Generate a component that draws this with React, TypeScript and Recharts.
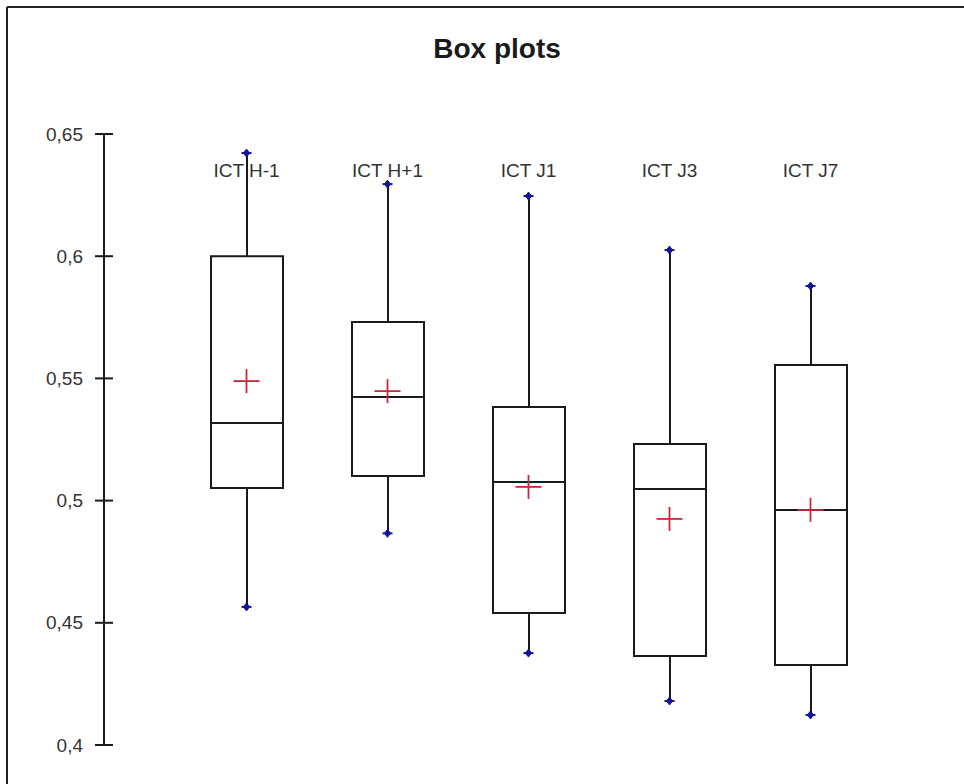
import { ComposedChart, Bar, Scatter, XAxis, YAxis } from 'recharts';

const categories = ['ICT H-1', 'ICT H+1', 'ICT J1', 'ICT J3', 'ICT J7'];
const minimums = [0.4565, 0.4866, 0.4376, 0.418, 0.4123];
const q1Values = [0.5052, 0.5101, 0.454, 0.4364, 0.4327];
const medians = [0.5318, 0.5424, 0.5076, 0.5047, 0.4962];
const q3Values = [0.6, 0.5731, 0.5383, 0.5232, 0.5555];
const maximums = [0.6422, 0.6295, 0.6246, 0.6025, 0.5878];
const means = [0.5489, 0.5448, 0.5056, 0.4925, 0.4962];
const yTicks = [0.4, 0.45, 0.5, 0.55, 0.6, 0.65];

const data = categories.map((name, i) => ({
  name,
  min: minimums[i],
  q1: q1Values[i],
  median: medians[i],
  q3: q3Values[i],
  max: maximums[i],
  mean: means[i],
}));

const FONT = '"Liberation Sans", Arial, sans-serif';
const AXIS_X = 104;
const BOX_W = 72;
const INK = '#1a1a1a';

const YTick = (props: any) => {
  const { y, payload } = props;
  return (
    <g>
      <line x1={AXIS_X - 9} x2={AXIS_X + 9} y1={y} y2={y} stroke={INK} strokeWidth={2} />
      <text x={AXIS_X - 21} y={y} dy="0.35em" textAnchor="end" fontSize={19} fill="#333" fontFamily={FONT}>
        {String(payload.value).replace('.', ',')}
      </text>
    </g>
  );
};

const XTick = (props: any) => {
  const { x, payload } = props;
  return (
    <text x={x} y={177} textAnchor="middle" fontSize={19} fill="#333" fontFamily={FONT}>
      {payload.value}
    </text>
  );
};

const Whisker = (props: any) => {
  const { x, y, width, height } = props;
  const top = Math.min(y, y + height);
  const bottom = Math.max(y, y + height);
  return <line x1={x + width / 2} x2={x + width / 2} y1={top} y2={bottom} stroke={INK} strokeWidth={2} />;
};

const MedianLine = (props: any) => {
  const { cx, cy } = props;
  return <line x1={cx - BOX_W / 2} x2={cx + BOX_W / 2} y1={cy} y2={cy} stroke={INK} strokeWidth={2} />;
};

const MeanCross = (props: any) => {
  const { cx, cy } = props;
  return (
    <g stroke="#c8283a" strokeWidth={1.8}>
      <line x1={cx - 13} x2={cx + 13} y1={cy} y2={cy} />
      <line x1={cx} x2={cx} y1={cy - 12} y2={cy + 12} />
    </g>
  );
};

const EndMarker = (props: any) => {
  const { cx, cy } = props;
  return (
    <g fill="#12129a" stroke="#12129a">
      <line x1={cx - 5} x2={cx + 5} y1={cy} y2={cy} strokeWidth={2} />
      <path d={`M${cx} ${cy - 4} L${cx + 3} ${cy} L${cx} ${cy + 4} L${cx - 3} ${cy} Z`} strokeWidth={1} />
    </g>
  );
};

export default function App() {
  return (
    <div style={{ position: 'absolute', left: 0, top: 0, width: 964, height: 784, background: '#fff' }}>
      <svg width={964} height={784} style={{ position: 'absolute', left: 0, top: 0 }}>
        <line x1={7} x2={964} y1={7} y2={7} stroke="#222" strokeWidth={2} />
        <line x1={7} x2={7} y1={7} y2={784} stroke="#222" strokeWidth={2} />
        <text x={497} y={58} textAnchor="middle" fontSize={28} fontWeight="bold" fill="#1a1a1a" fontFamily={FONT}>
          Box plots
        </text>
      </svg>
      <div style={{ position: 'absolute', left: 0, top: 0 }}>
        <ComposedChart
          width={964}
          height={784}
          data={data}
          margin={{ top: 104, right: 23, bottom: 39, left: 0 }}
          barGap={-BOX_W}
          barSize={BOX_W}
        >
          <XAxis
            dataKey="name"
            orientation="top"
            height={30}
            axisLine={false}
            tickLine={false}
            interval={0}
            padding={{ left: 72, right: 60 }}
            tick={<XTick />}
          />
          <YAxis
            type="number"
            domain={[0.4, 0.65]}
            ticks={yTicks}
            width={AXIS_X}
            axisLine={{ stroke: INK, strokeWidth: 2 }}
            tickLine={false}
            tick={<YTick />}
          />
          <Bar dataKey={(d: any) => [d.min, d.max]} shape={<Whisker />} isAnimationActive={false} />
          <Bar dataKey={(d: any) => [d.q1, d.q3]} fill="#fff" stroke={INK} strokeWidth={2} isAnimationActive={false} />
          <Scatter dataKey="median" shape={<MedianLine />} isAnimationActive={false} />
          <Scatter dataKey="mean" shape={<MeanCross />} isAnimationActive={false} />
          <Scatter dataKey="min" shape={<EndMarker />} isAnimationActive={false} />
          <Scatter dataKey="max" shape={<EndMarker />} isAnimationActive={false} />
        </ComposedChart>
      </div>
    </div>
  );
}
